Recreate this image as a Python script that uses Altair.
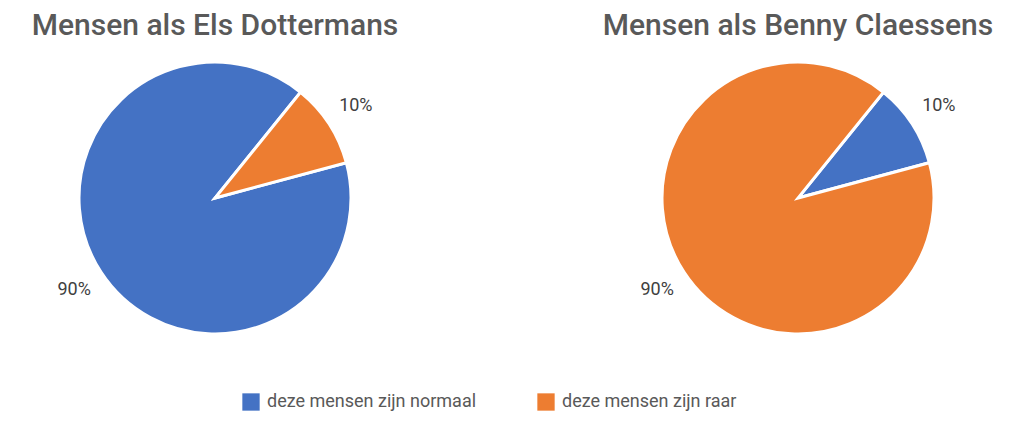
import math
import altair as alt
import pandas as pd

categories = ["deze mensen zijn normaal", "deze mensen zijn raar"]
colors = ["#4472C4", "#ED7D31"]
titles = ["Mensen als Els Dottermans", "Mensen als Benny Claessens"]
values_els = [90, 10]
values_benny = [10, 90]
labels_els = ["90%", "10%"]
labels_benny = ["10%", "90%"]
order_els = [2, 1]      # orange slice drawn first (starting at the offset angle)
order_benny = [1, 2]    # blue slice drawn first

START = 0.68  # radians, clockwise from 12 o'clock
FONT = "Roboto"
CX, CY = 215, 198

def panel(title, values, labels, order):
    df = pd.DataFrame({
        "category": categories,
        "value": values,
        "label": labels,
        "ord": order,
    })
    base = alt.Chart(df).encode(
        theta=alt.Theta("value:Q", stack=True,
                        scale=alt.Scale(domain=[0, 100], range=[START, START + 2 * math.pi])),
        order=alt.Order("ord:Q"),
    )
    arcs = base.mark_arc(stroke="white", strokeWidth=3, radius=136).encode(
        color=alt.Color(
            "category:N",
            scale=alt.Scale(domain=categories, range=colors),
            legend=alt.Legend(
                title=None, orient="none", direction="horizontal",
                legendX=242, legendY=393,
            ),
        ),
        x=alt.value(CX), y=alt.value(CY),
    )
    text = base.mark_text(radius=168, fontSize=18, font=FONT, color="#404040").encode(
        text="label:N", x=alt.value(CX), y=alt.value(CY),
    )
    ttl = alt.Chart(pd.DataFrame({"t": [title]})).mark_text(
        fontSize=30, font=FONT, fontWeight=500, color="#595959",
        align="center", baseline="alphabetic",
    ).encode(text="t:N", x=alt.value(CX), y=alt.value(35))
    return (arcs + text + ttl).properties(width=430, height=425)

chart = alt.hconcat(
    panel(titles[0], values_els, labels_els, order_els),
    panel(titles[1], values_benny, labels_benny, order_benny),
    spacing=153,
).properties(padding=0).configure_view(stroke=None).configure_legend(
    symbolType="square", symbolSize=300, symbolStrokeWidth=0,
    labelFontSize=18, labelColor="#595959", labelFont=FONT, labelLimit=400,
    columnPadding=60, labelOffset=7,
)

chart.save("out.html", embed_options={"renderer": "svg", "actions": False})
